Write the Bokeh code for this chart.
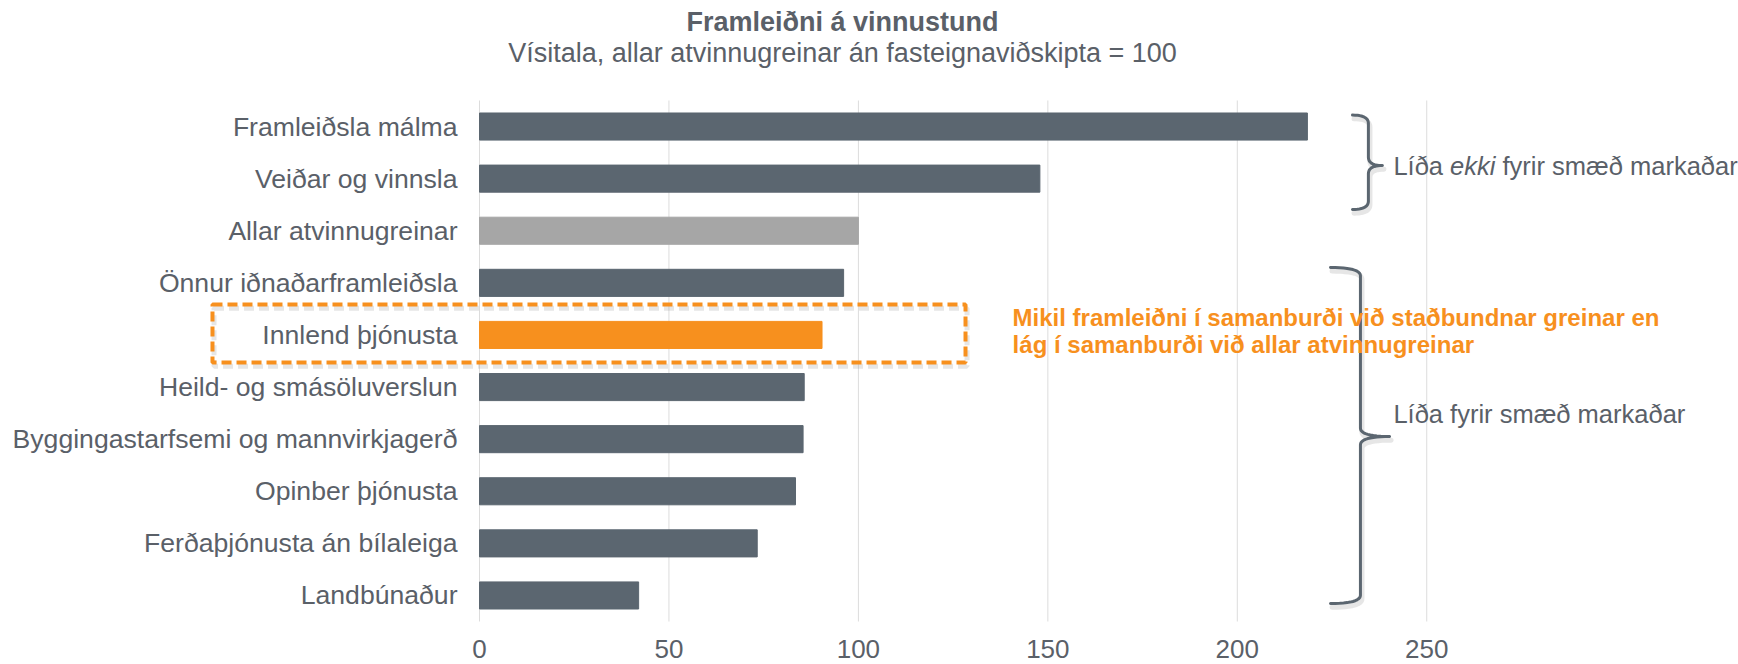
from bokeh.plotting import figure
from bokeh.models import Range1d, FixedTicker, Label, BoxAnnotation, LinearAxis
from bokeh.embed import file_html
from bokeh.resources import INLINE

# ---------------- data ----------------
categories = [
    "Framleiðsla málma",
    "Veiðar og vinnsla",
    "Allar atvinnugreinar",
    "Önnur iðnaðarframleiðsla",
    "Innlend þjónusta",
    "Heild- og smásöluverslun",
    "Byggingastarfsemi og mannvirkjagerð",
    "Opinber þjónusta",
    "Ferðaþjónusta án bílaleiga",
    "Landbúnaður",
]
values = [218.5, 147.9, 100.0, 96.1, 90.4, 85.7, 85.4, 83.4, 73.3, 42.0]
x_ticks = [0, 50, 100, 150, 200, 250]

total_category = "Allar atvinnugreinar"
focus_category = "Innlend þjónusta"

title_text = "Framleiðni á vinnustund"
subtitle_text = "Vísitala, allar atvinnugreinar án fasteignaviðskipta = 100"
focus_note = ["Mikil framleiðni í samanburði við staðbundnar greinar en",
              "lág í samanburði við allar atvinnugreinar"]
group_top_note = ("Líða ", "ekki", "fyrir smæð markaðar")
group_bottom_note = "Líða fyrir smæð markaðar"

# ---------------- style ----------------
DARK = "#5b6670"
GREY_BAR = "#a6a6a6"
ORANGE = "#f7901e"
TEXT = "#5a6068"
GRID = "#dcdcdc"
SHADOW = "#9a9a9a"
FONT = "Liberation Sans"

n = len(categories)
row_pos = [n - i - 0.5 for i in range(n)]          # top row first
bar_colors = [GREY_BAR if c == total_category else ORANGE if c == focus_category else DARK
              for c in categories]

p = figure(
    width=1738, height=664,
    x_range=Range1d(-126.42, 332.28),
    y_range=Range1d(-0.825, 11.919),
    x_axis_location=None, y_axis_location=None,
    output_backend="svg", toolbar_location=None,
    min_border_left=0, min_border_right=0, min_border_top=0, min_border_bottom=0,
)
p.outline_line_color = None
p.background_fill_color = "white"
p.border_fill_color = "white"
p.grid.visible = False

# vertical gridlines at the x ticks, spanning the category rows
p.segment(x0=x_ticks, x1=x_ticks, y0=[0] * len(x_ticks), y1=[n] * len(x_ticks),
          line_color=GRID, line_width=1)

p.hbar(y=row_pos, right=values, left=0, height=0.52, color=bar_colors)

# axes drawn at fixed data locations
xaxis = LinearAxis(fixed_location=0, ticker=FixedTicker(ticks=x_ticks))
xaxis.axis_line_color = None
xaxis.major_tick_line_color = None
xaxis.minor_tick_line_color = None
xaxis.major_tick_out = 0
xaxis.major_tick_in = 0
xaxis.major_label_standoff = 18
xaxis.major_label_text_font = FONT
xaxis.major_label_text_font_size = "26px"
xaxis.major_label_text_color = TEXT
p.add_layout(xaxis, "below")

yaxis = LinearAxis(fixed_location=0, ticker=FixedTicker(ticks=row_pos),
                   major_label_overrides={pos: c for pos, c in zip(row_pos, categories)})
yaxis.axis_line_color = None
yaxis.major_tick_line_color = None
yaxis.minor_tick_line_color = None
yaxis.major_tick_out = 0
yaxis.major_tick_in = 0
yaxis.major_label_standoff = 22
yaxis.major_label_text_font = FONT
yaxis.major_label_text_font_size = "26.6px"
yaxis.major_label_text_color = TEXT
p.add_layout(yaxis, "left")

# titles
p.add_layout(Label(x=95.8, y=11.50, text=title_text, text_align="center",
                   text_baseline="alphabetic", text_font=FONT, text_font_size="27px",
                   text_font_style="bold", text_color=TEXT))
p.add_layout(Label(x=95.8, y=10.902, text=subtitle_text, text_align="center",
                   text_baseline="alphabetic", text_font=FONT, text_font_size="27px",
                   text_color=TEXT))

# dashed highlight box around the focus row (soft shadow + box)
box = dict(left=-70.47, right=128.27, top=6.084, bottom=4.971)
p.add_layout(BoxAnnotation(left=box["left"] + 0.4, right=box["right"] + 0.4,
                           top=box["top"] - 0.07, bottom=box["bottom"] - 0.07,
                           fill_color=None, fill_alpha=0, line_color=SHADOW, line_alpha=0.25,
                           line_width=5, line_dash="10 5"))
p.add_layout(BoxAnnotation(**box, fill_color=None, fill_alpha=0, line_color=ORANGE,
                           line_alpha=1, line_width=4, line_dash="10 5"))

# orange note
for txt, yy in zip(focus_note, [5.833, 5.315]):
    p.add_layout(Label(x=140.7, y=yy, text=txt, text_align="left",
                       text_baseline="alphabetic", text_font=FONT, text_font_size="24px",
                       text_font_style="bold", text_color=ORANGE))


# curly braces
def brace(x_hook, x_v, x_tip, y_top, y_mid, y_bot, r=0.16):
    xs, ys = [], []

    def quad(p0, c, p1, k=12):
        for i in range(k + 1):
            t = i / k
            xs.append((1 - t) ** 2 * p0[0] + 2 * (1 - t) * t * c[0] + t ** 2 * p1[0])
            ys.append((1 - t) ** 2 * p0[1] + 2 * (1 - t) * t * c[1] + t ** 2 * p1[1])

    quad((x_hook, y_top), (x_v, y_top), (x_v, y_top - r))
    quad((x_v, y_mid + r), (x_v, y_mid), (x_tip, y_mid))
    quad((x_tip, y_mid), (x_v, y_mid), (x_v, y_mid - r))
    quad((x_v, y_bot + r), (x_v, y_bot), (x_hook, y_bot))
    return xs, ys


brace_specs = [
    # x_hook, x_vertical, x_tip, y_top, y_mid, y_bottom
    (230.4, 234.6, 238.3, 9.72, 8.752, 7.908),
    (224.6, 232.5, 240.2, 6.795, 3.551, 0.345),
]
for spec in brace_specs:
    bx, by = brace(*spec)
    p.line([v + 0.4 for v in bx], [v - 0.07 for v in by], line_color=SHADOW, line_alpha=0.25,
           line_width=5, line_join="round", line_cap="round")
    p.line(bx, by, line_color=DARK, line_width=3, line_join="round", line_cap="round")

# group notes
NOTE_SIZE = "25.5px"
NOTE_X = 241.2
p.add_layout(Label(x=NOTE_X, y=8.75, text=group_top_note[0], text_baseline="alphabetic",
                   text_font=FONT, text_font_size=NOTE_SIZE, text_color=TEXT))
p.add_layout(Label(x=NOTE_X, y=8.75, x_offset=56.7, text=group_top_note[1],
                   text_baseline="alphabetic", text_font=FONT, text_font_size=NOTE_SIZE,
                   text_font_style="italic", text_color=TEXT))
p.add_layout(Label(x=NOTE_X, y=8.75, x_offset=109.1, text=group_top_note[2],
                   text_baseline="alphabetic", text_font=FONT, text_font_size=NOTE_SIZE,
                   text_color=TEXT))
p.add_layout(Label(x=NOTE_X, y=3.975, text=group_bottom_note, text_baseline="alphabetic",
                   text_font=FONT, text_font_size=NOTE_SIZE, text_color=TEXT))

open("out.html", "w").write(file_html(p, INLINE))
